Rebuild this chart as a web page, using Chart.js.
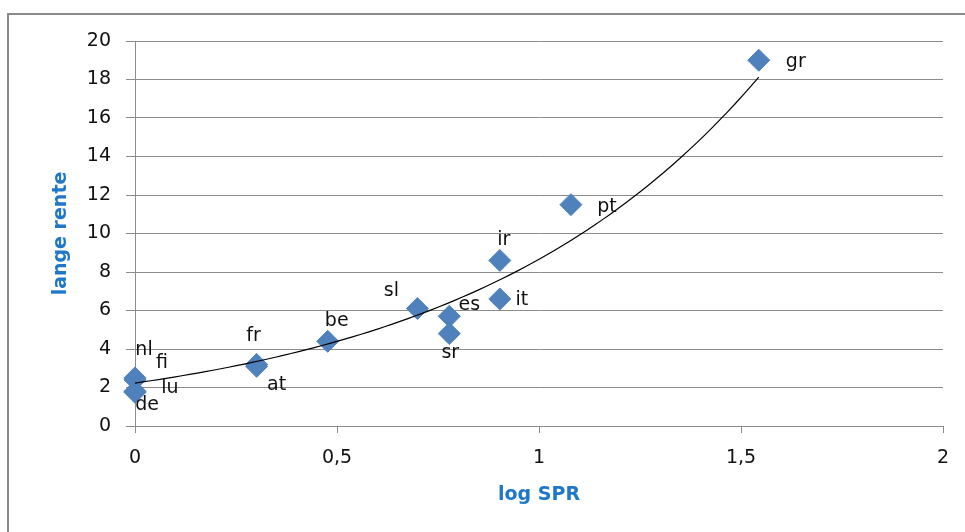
<!DOCTYPE html>
<html>
<head>
<meta charset="utf-8">
<script src="https://cdn.jsdelivr.net/npm/chart.js@4.4.1/dist/chart.umd.min.js"></script>
<style>
  html, body { margin: 0; padding: 0; background: #fff; overflow: hidden; }
  #frame { position: absolute; left: 7px; top: 13px; width: 1000px; height: 600px;
           border-left: 2px solid #8a8a8a; border-top: 2px solid #8a8a8a; }
  #wrap { position: absolute; left: 0; top: 0; width: 965px; height: 532px; }
</style>
</head>
<body>
<div id="frame"></div>
<div id="wrap"><canvas id="chart"></canvas></div>
<script>
// Daten
const countries = ['nl', 'fi', 'lu', 'de', 'fr', 'at', 'be', 'sl', 'es', 'sr', 'ir', 'it', 'pt', 'gr'];
const logSPR = [0, 0, 0, 0, 0.301, 0.301, 0.477, 0.699, 0.778, 0.778, 0.903, 0.903, 1.079, 1.544];
const langeRente = [2.5, 2.4, 1.8, 1.75, 3.2, 3.1, 4.4, 6.1, 5.7, 4.8, 8.6, 6.6, 11.5, 19.0];

// Achsenbeschriftungen
const xTicks = [0, 0.5, 1, 1.5, 2];
const xTickLabels = ['0', '0,5', '1', '1,5', '2'];

// Exponentielle Trendlinie y = a * e^(b*x), Koeffizienten aus dem Bild
const trendA = 2.23;
const trendB = 1.357;
const trendFrom = 0;
const trendTo = 1.544;

// Label-Versatz (Pixel) relativ zum Punkt
const labelOffset = {
  nl: [9, -28], fi: [27, -17], lu: [35, -3], de: [12, 13],
  fr: [-3, -28], at: [20, 19], be: [9, -20], sl: [-26, -18],
  es: [20, -11], sr: [1, 19], ir: [4, -20], it: [22, 1],
  pt: [36, 2], gr: [37, 2]
};

const FONT = "'DejaVu Sans', sans-serif";
const blue = '#4F81BD';
const titleBlue = '#1F77C9';
const gridGray = '#8c8c8c';

const points = logSPR.map((x, i) => ({ x: x, y: langeRente[i] }));

const trendPoints = [];
const steps = 80;
for (let i = 0; i <= steps; i++) {
  const x = trendFrom + (trendTo - trendFrom) * i / steps;
  trendPoints.push({ x: x, y: trendA * Math.exp(trendB * x) });
}

// Plugin für Punktbeschriftungen
const pointLabels = {
  id: 'pointLabels',
  afterDatasetsDraw(chart) {
    const meta = chart.getDatasetMeta(1);
    const ctx = chart.ctx;
    ctx.save();
    ctx.font = '19px ' + FONT;
    ctx.fillStyle = '#111';
    ctx.textAlign = 'center';
    ctx.textBaseline = 'middle';
    meta.data.forEach((el, i) => {
      const off = labelOffset[countries[i]] || [0, 0];
      ctx.fillText(countries[i], el.x + off[0], el.y + off[1]);
    });
    ctx.restore();
  }
};

const ctx = document.getElementById('chart').getContext('2d');
new Chart(ctx, {
  type: 'scatter',
  data: {
    datasets: [
      {
        label: 'Trend',
        data: trendPoints,
        showLine: true,
        borderColor: '#000',
        borderWidth: 1.2,
        pointRadius: 0,
        fill: false,
        clip: false,
        order: 0
      },
      {
        label: 'lange rente',
        data: points,
        pointStyle: 'rectRot',
        pointRadius: 11,
        backgroundColor: blue,
        borderColor: blue,
        borderWidth: 1,
        clip: false,
        order: 1
      }
    ]
  },
  options: {
    responsive: true,
    maintainAspectRatio: false,
    animation: false,
    layout: { padding: { left: 0, right: 22, top: 41, bottom: 0 } },
    scales: {
      x: {
        type: 'linear',
        min: 0,
        max: 2,
        afterBuildTicks: (scale) => { scale.ticks = xTicks.map(v => ({ value: v })); },
        afterFit: (scale) => { scale.height = 106; },
        grid: { drawOnChartArea: false, drawTicks: true, tickLength: 7, color: gridGray },
        border: { display: true, color: gridGray },
        ticks: {
          padding: 14,
          color: '#111',
          font: { family: FONT, size: 19 },
          maxRotation: 0,
          callback: (v) => { const i = xTicks.indexOf(v); return i >= 0 ? xTickLabels[i] : ''; }
        },
        title: {
          display: true,
          text: 'log SPR',
          color: titleBlue,
          font: { family: FONT, size: 19, weight: 'bold' },
          padding: { top: 26, bottom: 26 }
        }
      },
      y: {
        type: 'linear',
        min: 0,
        max: 20,
        afterFit: (scale) => { scale.width = 135; },
        grid: { color: gridGray, drawTicks: true, tickLength: 9 },
        border: { display: true, color: gridGray },
        ticks: {
          stepSize: 2,
          padding: 15,
          color: '#111',
          font: { family: FONT, size: 19 }
        },
        title: {
          display: true,
          text: 'lange rente',
          color: titleBlue,
          font: { family: FONT, size: 19, weight: 'bold' },
          padding: { top: 50, bottom: 50 }
        }
      }
    },
    plugins: {
      legend: { display: false },
      tooltip: { enabled: false }
    }
  },
  plugins: [pointLabels]
});
</script>
</body>
</html>
